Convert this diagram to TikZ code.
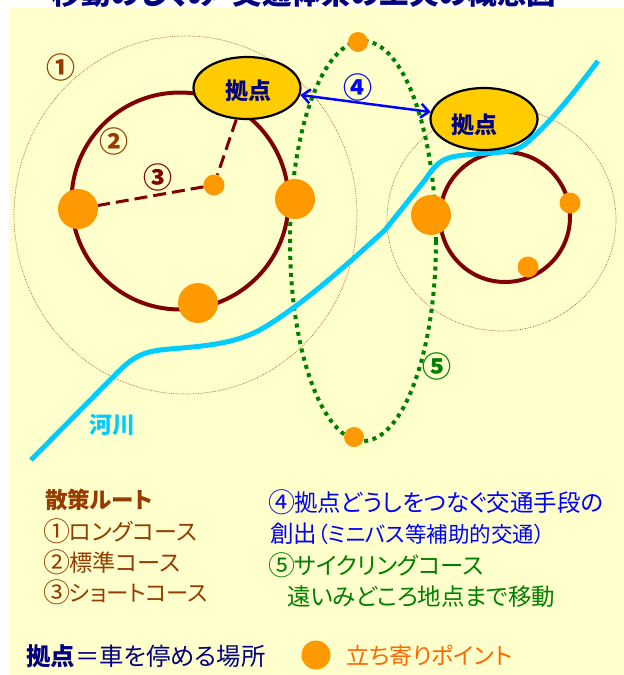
\documentclass[tikz,border=0pt]{standalone}
\usepackage{fontspec}
\setmainfont[RawFeature={+palt}]{Noto Sans CJK JP}
\newfontfamily\cn{Noto Sans CJK JP}
\definecolor{bgy}{RGB}{255,255,204}
\definecolor{brn}{RGB}{128,0,0}
\definecolor{txtbrn}{RGB}{150,60,0}
\definecolor{org}{RGB}{255,153,0}
\definecolor{orgt}{RGB}{255,102,0}
\definecolor{hub}{RGB}{255,204,0}
\definecolor{navy}{RGB}{0,0,128}
\definecolor{riv}{RGB}{0,204,255}
\definecolor{grn}{RGB}{0,128,0}
\definecolor{blu}{RGB}{0,0,255}
\newcommand{\fs}[1]{\fontsize{#1}{#1}\selectfont}
\newcommand{\cd}[1]{{\cn\fs{27}\kern-2pt\raisebox{-0.5pt}{#1}\kern-1pt}}
\usetikzlibrary{shapes.geometric,arrows.meta}
\tikzset{x=1pt,y=-1pt,
 stop/.style={circle,fill=org,inner sep=0pt,minimum size=#1},
 hubn/.style={ellipse,draw=black,line width=2.2pt,fill=hub,minimum width=107pt,minimum height=62pt,inner sep=0pt},
 hubt/.style={inner sep=0pt,text=navy,font=\fs{23}\bfseries},
 lab/.style={anchor=west,inner sep=0pt},
 num/.style={inner sep=0pt,font=\cn\fs{29}\bfseries},
 far/.style={draw=txtbrn!80,line width=0.7pt,densely dotted},
 route/.style={draw=brn,line width=4pt}}
\begin{document}
\begin{tikzpicture}
\useasboundingbox (0,0) rectangle (624,675);
\fill[white] (0,0) rectangle (624,675);
\fill[bgy] (9,8) rectangle (624,675);
\node[inner sep=0pt,text=navy,font=\fs{29.5}\bfseries] (title) at (304,-7) {移動のしくみ・交通体系の工夫の概念図};
\draw[far] (185.5,215) ellipse[x radius=171.5,y radius=179];
\draw[far] (501.5,219.5) ellipse[x radius=114.5,y radius=111.5];
\draw[route] (180,201) circle[radius=108.5];
\draw[route] (505,217) circle[radius=65];
\draw[grn,line width=4pt,dash pattern=on 4pt off 4.5pt] (363,241) ellipse[x radius=73,y radius=200];
\coordinate (r0) at (31,460);
\coordinate (r1) at (598,61);
\draw[riv,line width=5pt] (r0) -- (118,372) .. controls (135,355) and (145,351) .. (170,349)
 .. controls (205,346) and (232,344) .. (258,331)
 .. controls (298,309) and (350,262) .. (385,230) -- (425,180)
 .. controls (438,160) and (445,157) .. (465,155) .. controls (500,151) and (515,155) .. (530,140)
 .. controls (550,122) and (570,98) .. (r1);
\node[hubn] (h1) at (247,88) {}; \node[hubt] (h1t) at (248,91) {拠点};
\node[hubn] (h2) at (484,119) {}; \node[hubt] (h2t) at (474.5,125) {拠点};
\node[stop=20pt] (a) at (358,42) {};
\node[stop=20pt] (b) at (354,437) {};
\node[stop=40pt] (c) at (78,209) {};
\node[stop=40pt] (d) at (295,199) {};
\node[stop=40pt] (e) at (198,303) {};
\node[stop=21pt] (f) at (214,185) {};
\node[stop=40pt] (g) at (431,215) {};
\node[stop=21pt] (i) at (570,203) {};
\node[stop=21pt] (j) at (528,267) {};
\draw[brn,line width=3pt,dash pattern=on 13pt off 6pt] (h1) -- (f);
\draw[brn,line width=3pt,dash pattern=on 13pt off 6pt] (f) -- (c);
\draw[blu,line width=2.5pt,{Straight Barb[length=8pt,width=14pt]}-{Straight Barb[length=8pt,width=14pt]}] (h1) -- (h2);
\node[num,text=txtbrn] (n1) at (61,67) {①};
\node[num,text=txtbrn] (n2) at (114,141) {②};
\node[num,text=brn] (n3) at (158,177) {③};
\node[num,text=blu] (n4) at (358,87) {④};
\node[num,text=grn] (n5) at (437,366) {⑤};
\node[inner sep=0pt,text=riv,font=\fs{23}\bfseries] (river) at (112,425) {河川};
\node[lab,text=txtbrn,font=\fs{22.5}\bfseries] (l0) at (45,500) {散策ルート};
\node[lab,text=txtbrn,font=\fs{23}] (l1) at (45,531) {\cd{①}ロングコース};
\node[lab,text=txtbrn,font=\fs{23.2}] (l2) at (45,562) {\cd{②}標準コース};
\node[lab,text=txtbrn,font=\fs{22.4}] (l3) at (45,592) {\cd{③}ショートコース};
\node[lab,text=blu,font=\fs{23.5}] (m1) at (270,502) {\cd{④}拠点どうしをつなぐ交通手段の};
\node[lab,text=blu,font=\fs{23.5}] (m2) at (270,534) {創出{\fs{21.5}（ミニバス等補助的交通）}};
\node[lab,text=grn,font=\fs{23.4}] (m3) at (270,565) {\cd{⑤}サイクリングコース};
\node[lab,text=grn,font=\fs{23.5}] (m4) at (287,597) {遠いみどころ地点まで移動};
\node[lab,text=navy,font=\fs{24.4}] (k) at (26,656) {\textbf{拠点}＝車を停める場所};
\node[stop=29pt] (ks) at (316,655) {};
\node[lab,text=orgt,font=\fs{23}] (kl) at (346,656) {立ち寄りポイント};
\end{tikzpicture}
\end{document}
